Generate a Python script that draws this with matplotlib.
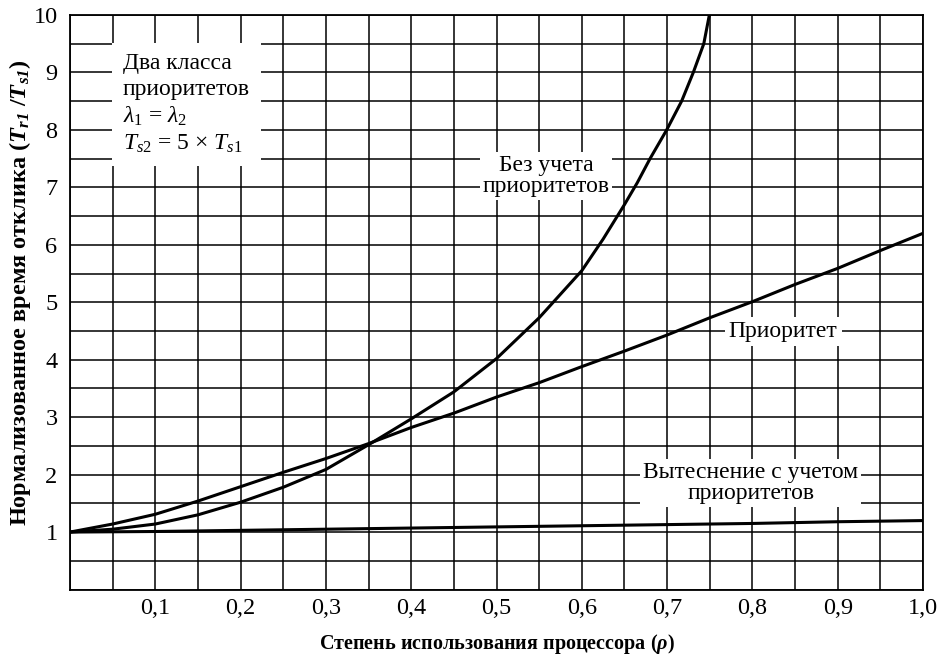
import matplotlib
matplotlib.use("Agg")
import matplotlib.pyplot as plt
from matplotlib.ticker import MultipleLocator

plt.rcParams['font.family'] = ['Liberation Serif', 'DejaVu Serif']
plt.rcParams['mathtext.fontset'] = 'custom'
plt.rcParams['mathtext.rm'] = 'Liberation Serif'
plt.rcParams['mathtext.it'] = 'Liberation Serif:italic'
plt.rcParams['mathtext.bf'] = 'Liberation Serif:italic:bold'

# ---- data ----
rho_nopri = [0, 0.05, 0.10, 0.15, 0.20, 0.25, 0.30, 0.35, 0.40, 0.45, 0.50,
             0.55, 0.60, 0.625, 0.65, 0.665, 0.680, 0.6995, 0.717, 0.7307, 0.743, 0.7495]
tr_nopri = [1.0, 1.05, 1.14, 1.30, 1.52, 1.78, 2.09, 2.52, 2.97, 3.44, 4.02,
            4.73, 5.55, 6.1, 6.7, 7.08, 7.5, 8.0, 8.5, 9.0, 9.5, 10.0]

rho_pri = [0, 0.05, 0.10, 0.15, 0.20, 0.25, 0.30, 0.35, 0.40, 0.45, 0.50,
           0.55, 0.60, 0.65, 0.70, 0.75, 0.80, 0.85, 0.90, 0.95, 1.0]
tr_pri = [1.0, 1.14, 1.31, 1.54, 1.79, 2.04, 2.28, 2.54, 2.82, 3.07, 3.35,
          3.60, 3.88, 4.15, 4.43, 4.73, 5.01, 5.31, 5.59, 5.90, 6.20]

rho_pre = [0, 0.1, 0.2, 0.3, 0.4, 0.5, 0.6, 0.7, 0.8, 0.9, 1.0]
tr_pre = [1.0, 1.01, 1.03, 1.05, 1.07, 1.09, 1.11, 1.13, 1.15, 1.18, 1.20]

x_ticks = [0.1, 0.2, 0.3, 0.4, 0.5, 0.6, 0.7, 0.8, 0.9, 1.0]
x_ticklabels = ['0,1', '0,2', '0,3', '0,4', '0,5', '0,6', '0,7', '0,8', '0,9', '1,0']
y_ticks = [1, 2, 3, 4, 5, 6, 7, 8, 9, 10]
y_ticklabels = ['1', '2', '3', '4', '5', '6', '7', '8', '9', '10']

label_nopri = 'Без учета\nприоритетов'
label_pri = 'Приоритет'
label_pre = 'Вытеснение с учетом\nприоритетов'
box_text = 'Два класса\nприоритетов\n$\\lambda_1$ = $\\lambda_2$\n$T_{s2}$ = 5 × $T_{s1}$'
xlabel = 'Степень использования процессора ($\\mathbf{\\rho}$)'
ylabel = 'Нормализованное время отклика ($\\mathbf{T_{r1}}$ /$\\mathbf{T_{s1}}$)'

fig = plt.figure(figsize=(9.5, 6.57), dpi=100)
ax = fig.add_axes([0.0737, 0.1027, 0.8979, 0.8745])

ax.set_xlim(0, 1.0)
ax.set_ylim(0, 10)
ax.set_xticks(x_ticks)
ax.set_xticklabels(x_ticklabels)
ax.set_yticks(y_ticks)
ax.set_yticklabels(y_ticklabels)
ax.xaxis.set_minor_locator(MultipleLocator(0.05))
ax.yaxis.set_minor_locator(MultipleLocator(0.5))
ax.grid(True, which='both', color='black', linewidth=1.1)
ax.set_axisbelow(True)
ax.tick_params(which='both', length=0, labelsize=17.5, colors='black')
ax.tick_params(axis='x', pad=6)
ax.tick_params(axis='y', pad=9)
for s in ax.spines.values():
    s.set_linewidth(1.3)
    s.set_color('black')

lw = 2.2
ax.plot(rho_nopri, tr_nopri, color='black', linewidth=lw, zorder=2)
ax.plot(rho_pri, tr_pri, color='black', linewidth=lw, zorder=2)
ax.plot(rho_pre, tr_pre, color='black', linewidth=lw, zorder=2)

fs = 17
bb = dict(facecolor='white', edgecolor='none', pad=2)
ax.text(0.558, 7.2, label_nopri, ha='center', va='center', fontsize=fs,
        linespacing=1.0, bbox=bb, zorder=4)
ax.text(0.836, 4.49, label_pri, ha='center', va='center', fontsize=fs,
        bbox=dict(facecolor='white', edgecolor='none', pad=3), zorder=4)
ax.text(0.798, 1.85, label_pre, ha='center', va='center', fontsize=fs,
        linespacing=1.0, bbox=bb, zorder=4)
ax.text(0.062, 9.33, box_text, ha='left', va='top', fontsize=fs,
        linespacing=1.28,
        bbox=dict(facecolor='white', edgecolor='none', boxstyle='square,pad=0.45'),
        zorder=4)

ax.set_xlabel(xlabel, fontsize=14.5, fontweight='bold')
ax.xaxis.set_label_coords(0.5, -0.074)
ax.set_ylabel(ylabel, fontsize=17.5, fontweight='bold', va='center')
ax.yaxis.set_label_coords(-0.0586, 0.516)

fig.savefig('out.png', dpi=100, facecolor='white')
